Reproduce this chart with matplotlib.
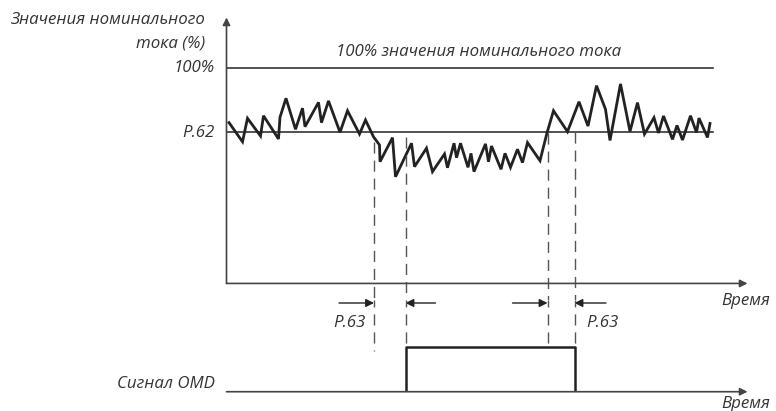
import numpy as np
import matplotlib
matplotlib.use('Agg')
import matplotlib.pyplot as plt

# current waveform: time (arb. units) and % of rated current
t_wave = [0.6, 3.3, 4.3, 6.9, 7.5, 10.5, 10.8, 12.0, 13.9, 15.3,
          15.8, 18.5, 19.1, 20.5, 22.8, 24.3, 26.7, 27.9, 29.5, 30.7,
          30.8, 33.3, 33.9, 37.1, 37.7, 40.1, 41.3, 43.7, 44.3, 45.6,
          46.1, 46.9, 48.4, 49.0, 49.6, 51.9, 52.5, 53.1, 55.0, 55.8,
          56.9, 58.3, 59.3, 60.3, 62.8, 64.2, 65.5, 68.3, 70.6, 72.4,
          74.1, 75.9, 76.8, 78.9, 80.8, 82.3, 83.7, 85.6, 86.5, 87.5,
          89.3, 90.2, 91.3, 92.9, 94.1, 94.6, 96.3, 96.8]
i_wave = [74.6, 65.7, 76.6, 68.4, 77.8, 67.0, 77.1, 85.9, 71.5, 81.3,
          72.7, 84.0, 74.6, 84.7, 70.1, 80.1, 69.3, 75.8, 68.0, 64.2,
          56.4, 67.6, 49.4, 65.0, 54.1, 62.7, 51.8, 60.0, 53.6, 65.0,
          58.3, 65.0, 53.8, 60.3, 51.8, 64.7, 56.4, 63.7, 52.9, 60.3,
          53.8, 62.2, 56.0, 65.3, 56.9, 69.8, 80.1, 70.4, 84.3, 73.0,
          91.8, 80.8, 66.3, 92.6, 70.5, 83.9, 69.3, 76.9, 69.8, 77.7,
          66.8, 73.3, 66.5, 77.8, 70.0, 76.7, 67.7, 74.2]

P62 = 70.2          # % threshold level
FULL = 100.0        # %
t_line_end = 97.4
t_dash = [29.6, 35.9, 64.3, 69.7]      # P.63 boundaries
i_dash_top = [65.5, 68.0, 69.8, 70.3]  # where dashed lines start
omd_t = [35.9, 35.9, 69.7, 69.7]
omd_v = [0, 1, 1, 0]

DARK = '#222222'
AX = '#444444'
TXT = '#333333'
FONT = dict(family='Open Sans', style='italic', color=TXT, fontsize=12.2)

fig = plt.figure(figsize=(7.76, 4.11), dpi=100)
XL = (-226 / 5, 550 / 5)
ax = fig.add_axes([0, 1 - 300 / 411, 1, 300 / 411])
ax.set_xlim(*XL)
ax.set_ylim(-17 / 2.15, 283 / 2.15)
axb = fig.add_axes([0, 0, 1, 111 / 411])
axb.set_xlim(*XL)
axb.set_ylim(-21 / 43, 90 / 43)
for a in (ax, axb):
    a.axis('off')

# axes with arrows
arr = dict(arrowstyle='-|>', color=AX, lw=1.2, mutation_scale=11, shrinkA=0, shrinkB=0)
ax.annotate('', xy=(0.1, 123.5), xytext=(0.1, -0.2), arrowprops=arr)
ax.annotate('', xy=(104.3, -0.2), xytext=(0.1, -0.2), arrowprops=arr)
axb.annotate('', xy=(104.3, -0.04), xytext=(0.1, -0.04), arrowprops=arr)

# reference levels
ax.plot([0.1, t_line_end], [FULL, FULL], color=DARK, lw=1.1)
ax.plot([0.1, t_line_end], [P62, P62], color=DARK, lw=1.1)

# waveform
ax.plot(t_wave, i_wave, color=DARK, lw=2, solid_joinstyle='miter')

# dashed lines
dash_bot = [0.9, 1.0, 0.97, 1.0]
for td, top, db in zip(t_dash, i_dash_top, dash_bot):
    ax.plot([td, td], [top, -8], color='#555555', lw=1, linestyle=(0, (8, 5)))
    axb.plot([td, td], [2.1, db], color='#555555', lw=1, linestyle=(3, (8, 5)))

# OMD signal
axb.plot(omd_t, omd_v, color=DARK, lw=1.8)

# P.63 arrows
ap = dict(arrowstyle='-|>', color=DARK, lw=1, mutation_scale=12, shrinkA=0, shrinkB=0)
y_arr = -9.3
for x0, x1 in [(22.6, 29.6), (41.9, 35.9), (57.3, 64.3), (76.0, 69.7)]:
    ax.annotate('', xy=(x1, y_arr), xytext=(x0, y_arr), arrowprops=ap, annotation_clip=False)

# texts
ax.text(-2.2, P62 - 0.4, 'P.62', ha='right', va='center', **FONT)
ax.text(-2.2, FULL, '100%', ha='right', va='center', **FONT)
ax.text(50.5, 107.5, '100% значения номинального тока', ha='center', va='center', **FONT)
ax.text(-4.2, 122.3, 'Значения номинального', ha='right', va='center', **FONT)
ax.text(-4.2, 111.2, 'тока (%)', ha='right', va='center', **FONT)
ax.text(108.9, -8.2, 'Время', ha='right', va='center', **FONT)
ax.text(28.0, -18.8, 'P.63', ha='right', va='center', clip_on=False, **FONT)
ax.text(72.0, -18.8, 'P.63', ha='left', va='center', clip_on=False, **FONT)
axb.text(-2.2, 0.14, 'Сигнал OMD', ha='right', va='center', **FONT)
axb.text(108.9, -0.33, 'Время', ha='right', va='center', **FONT)

fig.savefig('out.png', dpi=100)
